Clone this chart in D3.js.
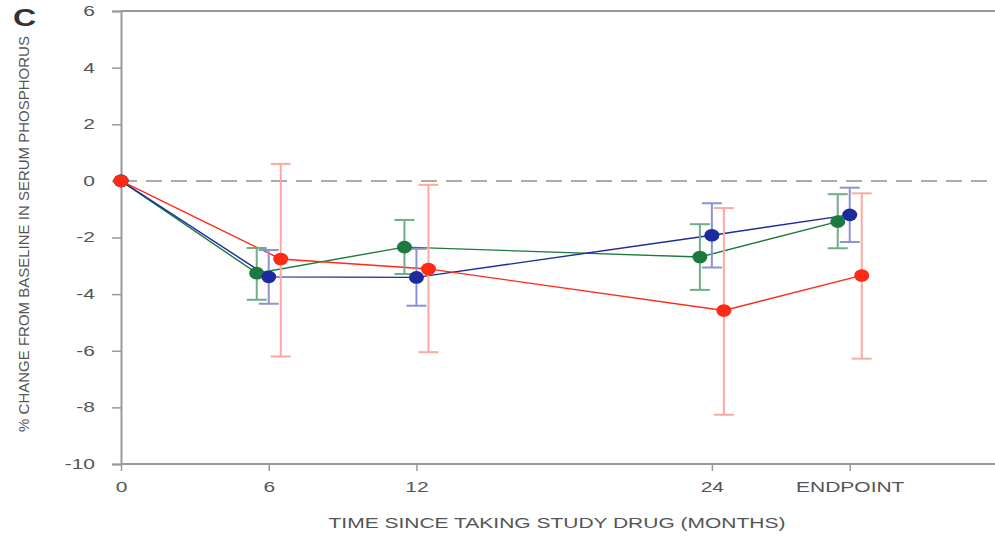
<!DOCTYPE html>
<html><head><meta charset="utf-8">
<script src="https://cdn.jsdelivr.net/npm/d3@7"></script>
<style>body{margin:0;background:#fff}svg{display:block}text{font-family:"Liberation Sans",Arial,sans-serif}</style>
</head><body><svg id="c" width="995" height="546"></svg>
<script>
// ---- data ----
const timepoints = [0, 6, 12, 24, 29.6];
const tickLabels = ["0", "6", "12", "24", "ENDPOINT"];
const seriesNames = ["green", "blue", "red"];
const greenMean = [0, -3.26, -2.34, -2.69, -1.44];
const greenHi   = [0, -2.37, -1.38, -1.53, -0.47];
const greenLo   = [0, -4.20, -3.29, -3.85, -2.38];
const blueMean  = [0, -3.39, -3.41, -1.92, -1.20];
const blueHi    = [0, -2.44, -2.40, -0.79, -0.24];
const blueLo    = [0, -4.34, -4.41, -3.06, -2.16];
const redMean   = [0, -2.76, -3.11, -4.58, -3.34];
const redHi     = [0, 0.60, -0.14, -0.96, -0.44];
const redLo     = [0, -6.20, -6.05, -8.26, -6.28];
const yTicks = [-10, -8, -6, -4, -2, 0, 2, 4, 6];

const series = [
  {name:"green", mean:greenMean, hi:greenHi, lo:greenLo, color:"#1d7a3e", err:"#6fae85", dx:-12},
  {name:"blue",  mean:blueMean,  hi:blueHi,  lo:blueLo,  color:"#1b2a9c", err:"#8a92d6", dx:0},
  {name:"red",   mean:redMean,   hi:redHi,   lo:redLo,   color:"#ff2a14", err:"#ffa8a0", dx:12}
];

const SX = 1.5; // horizontal stretch of text
const svg = d3.select("#c");
const x = d3.scaleLinear().domain([0, 35.5]).range([121, 995]);
const y = d3.scaleLinear().domain([-10, 6]).range([464, 11]);

// frame
svg.append("line").attr("x1",121).attr("x2",995).attr("y1",y(6)).attr("y2",y(6)).attr("stroke","#999").attr("stroke-width",2);
svg.append("line").attr("x1",121).attr("x2",995).attr("y1",y(-10)).attr("y2",y(-10)).attr("stroke","#999").attr("stroke-width",2);

// y axis
const yAxis = svg.append("g").attr("transform","translate(121,0)")
  .call(d3.axisLeft(y).tickValues(yTicks).tickSize(9).tickFormat(d => String(d)));
yAxis.select(".domain").attr("stroke","#999").attr("stroke-width",2);
yAxis.selectAll(".tick line").attr("stroke","#999").attr("stroke-width",1.5);
yAxis.selectAll("text").attr("fill","#555").attr("font-size",14)
  .attr("x",-26/SX).attr("transform",`scale(${SX},1)`);

// x axis
const xAxis = svg.append("g").attr("transform","translate(0,464)")
  .call(d3.axisBottom(x).tickValues(timepoints).tickSize(7).tickPadding(11).tickFormat((d,i)=>tickLabels[i]));
xAxis.select(".domain").remove();
xAxis.selectAll(".tick line").attr("stroke","#999").attr("stroke-width",1.5);
xAxis.selectAll("text").attr("fill","#555").attr("font-size",14).attr("transform",`scale(${SX},1)`);

// zero dashed line
svg.append("line").attr("x1",121).attr("x2",995).attr("y1",y(0)).attr("y2",y(0))
  .attr("stroke","#aaa").attr("stroke-width",2).attr("stroke-dasharray","16,9");

// titles
svg.append("text").attr("transform","translate(13,26) scale(1.4,1)").attr("font-size",23).attr("font-weight","bold").attr("fill","#333").text("C");
svg.append("text").attr("transform","translate(29,234) rotate(-90)").attr("text-anchor","middle")
  .attr("font-size",15).attr("fill","#555").text("% CHANGE FROM BASELINE IN SERUM PHOSPHORUS");
svg.append("text").attr("transform",`translate(557,528) scale(${SX},1)`).attr("text-anchor","middle")
  .attr("font-size",14).attr("fill","#555").text("TIME SINCE TAKING STUDY DRUG (MONTHS)");

const px = (s,i) => x(timepoints[i]) + (i===0 ? 0 : s.dx);

// lines
series.forEach(s=>{
  const line = d3.line().x((d,i)=>px(s,i)).y(d=>y(d));
  svg.append("path").datum(s.mean).attr("d",line).attr("fill","none").attr("stroke",s.color).attr("stroke-width",1.4);
});
// error bars
series.forEach(s=>{
  const g = svg.append("g").attr("stroke",s.err).attr("stroke-width",2).attr("fill","none");
  s.mean.forEach((m,i)=>{
    if(i===0) return;
    const cx = px(s,i);
    g.append("line").attr("x1",cx).attr("x2",cx).attr("y1",y(s.hi[i])).attr("y2",y(s.lo[i]));
    g.append("line").attr("x1",cx-10).attr("x2",cx+10).attr("y1",y(s.hi[i])).attr("y2",y(s.hi[i]));
    g.append("line").attr("x1",cx-10).attr("x2",cx+10).attr("y1",y(s.lo[i])).attr("y2",y(s.lo[i]));
  });
});
// dots
series.forEach(s=>{
  svg.append("g").selectAll("ellipse").data(s.mean).join("ellipse")
    .attr("cx",(d,i)=>px(s,i)).attr("cy",d=>y(d)).attr("rx",7.5).attr("ry",6.3).attr("fill",s.color);
});
</script></body></html>
